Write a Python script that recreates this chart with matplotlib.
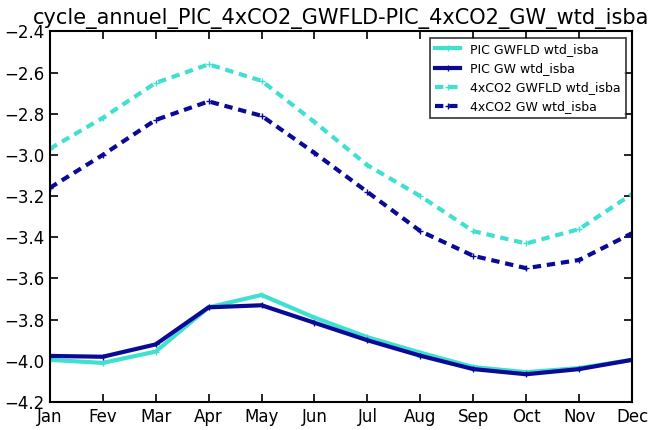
import matplotlib
matplotlib.use("Agg")
import matplotlib.pyplot as plt

mois = ['Jan', 'Fev', 'Mar', 'Apr', 'May', 'Jun', 'Jul', 'Aug', 'Sep', 'Oct', 'Nov', 'Dec']

pic_gwfld = [-3.995, -4.01, -3.955, -3.74, -3.68, -3.79, -3.885, -3.96, -4.03, -4.055, -4.035, -3.995]
pic_gw = [-3.976, -3.98, -3.92, -3.74, -3.73, -3.815, -3.90, -3.975, -4.04, -4.065, -4.04, -3.995]
co2_gwfld = [-2.97, -2.82, -2.65, -2.56, -2.64, -2.84, -3.05, -3.20, -3.37, -3.43, -3.36, -3.19]
co2_gw = [-3.16, -3.00, -2.83, -2.74, -2.81, -2.99, -3.18, -3.37, -3.49, -3.55, -3.51, -3.38]

cyan = '#40E0D0'
bleu = '#0A0A96'

fig = plt.figure(figsize=(6.64, 4.30), dpi=100)
ax = fig.add_axes([0.075, 0.065, 0.877, 0.862])

x = range(len(mois))
ax.plot(x, pic_gwfld, color=cyan, lw=3, marker='+', ms=5, label='PIC GWFLD wtd_isba')
ax.plot(x, pic_gw, color=bleu, lw=3, marker='+', ms=5, label='PIC GW wtd_isba')
ax.plot(x, co2_gwfld, color=cyan, lw=3, ls='--', dashes=(2, 1.4), marker='+', ms=5, label='4xCO2 GWFLD wtd_isba')
ax.plot(x, co2_gw, color=bleu, lw=3, ls='--', dashes=(2, 1.4), marker='+', ms=5, label='4xCO2 GW wtd_isba')

ax.set_xlim(0, 11)
ax.set_ylim(-4.2, -2.4)
ax.set_xticks(list(x))
ax.set_xticklabels(mois)
ax.set_yticks([-4.2, -4.0, -3.8, -3.6, -3.4, -3.2, -3.0, -2.8, -2.6, -2.4])
ax.tick_params(direction='in', top=True, right=True, labelsize=12, length=6, width=1.2, pad=4)
for s in ax.spines.values():
    s.set_linewidth(1.5)

ax.set_title('cycle_annuel_PIC_4xCO2_GWFLD-PIC_4xCO2_GW_wtd_isba', fontsize=15, pad=5)
leg = ax.legend(loc='upper right', fontsize=9, fancybox=False, edgecolor='black',
                handlelength=2.0, borderaxespad=0.5)
leg.get_frame().set_linewidth(1.2)

fig.savefig('out.png', dpi=100)
